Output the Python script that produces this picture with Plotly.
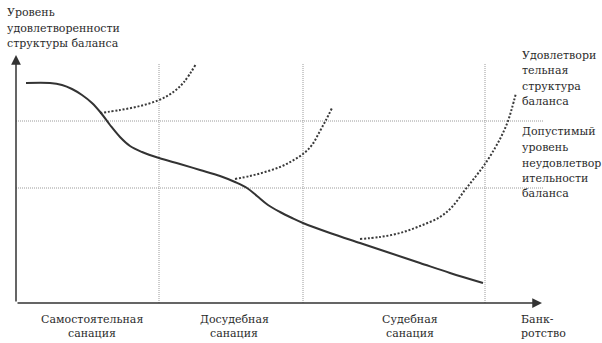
import plotly.graph_objects as go

# Main solid curve: level of balance-structure satisfaction over stages
main_x = [10, 34, 46, 56, 66, 76, 85, 94, 104, 114, 126, 143, 164, 184, 204, 219, 231, 241, 252, 264, 276, 287, 314, 344, 374, 404, 434, 467]
main_y = [220, 220, 218, 214, 208, 200, 190, 178, 166, 157, 151, 145, 139, 133, 127, 121, 115, 107, 98, 91, 85, 80, 70, 60, 50, 40, 30, 20]

# Dotted recovery curves
rec1_x = [84, 104, 124, 143, 156, 168, 180]
rec1_y = [190, 193, 197, 203, 210, 221, 239]
rec2_x = [219, 234, 249, 264, 276, 287, 296, 304, 310, 316]
rec2_y = [124, 127, 131, 136, 142, 149, 158, 172, 183, 195]
rec3_x = [344, 364, 384, 404, 424, 436, 449, 460, 469, 479, 486, 492, 496, 500]
rec3_y = [64, 66, 70, 77, 86, 96, 113, 127, 139, 155, 168, 182, 195, 210]

# Reference levels and stage borders
levels = [182, 115]
level_x_end = 527
stage_borders = [143, 287, 469]
border_top = 240

axis_x_tip = 526
axis_y_tip = 248

title_lines = ["Уровень", "удовлетворенности", "структуры баланса"]
title_y = [291, 275, 260]
right1_lines = ["Удовлетвори", "тельная", "структура", "баланса"]
right1_y = [248, 233, 217, 202]
right2_lines = ["Допустимый", "уровень", "неудовлетвор", "ительности", "баланса"]
right2_y = [172, 156, 140, 125, 110]
stage_labels = [["Самостоятельная", "санация"], ["Досудебная", "санация"], ["Судебная", "санация"]]
stage_label_x = [76, 218, 394]
bank_lines = ["Банк-", "ротство"]
bottom_y = [-16, -30]

FONT = "DejaVu Serif"
TXT = "#2b2b2b"
LINE = "#333333"
GRID = "#9a9a9a"

fig = go.Figure()

# reference dotted grid lines
for lv in levels:
    fig.add_trace(go.Scatter(x=[0, level_x_end], y=[lv, lv], mode="lines",
                             line=dict(color=GRID, width=1, dash="1px,1px"), hoverinfo="skip"))
for sb in stage_borders:
    fig.add_trace(go.Scatter(x=[sb, sb], y=[0, border_top], mode="lines",
                             line=dict(color=GRID, width=1, dash="1px,1px"), hoverinfo="skip"))

for rx, ry in [(rec1_x, rec1_y), (rec2_x, rec2_y), (rec3_x, rec3_y)]:
    fig.add_trace(go.Scatter(x=rx, y=ry, mode="lines", line_shape="spline",
                             line=dict(color="#3a3a3a", width=2, dash="2px,1.8px"), hoverinfo="skip"))

fig.add_trace(go.Scatter(x=main_x, y=main_y, mode="lines", line_shape="spline",
                         line=dict(color=LINE, width=2), hoverinfo="skip"))

annotations = []
# axes with arrows
annotations.append(dict(x=0, y=axis_y_tip, ax=0, ay=0, xref="x", yref="y", axref="x", ayref="y",
                        showarrow=True, arrowhead=2, arrowsize=1.3, arrowwidth=1.5,
                        arrowcolor=LINE, text=""))
annotations.append(dict(x=axis_x_tip, y=0, ax=0, ay=0, xref="x", yref="y", axref="x", ayref="y",
                        showarrow=True, arrowhead=2, arrowsize=1.3, arrowwidth=1.5,
                        arrowcolor=LINE, text=""))


def txt(t, x, y, xanchor="left"):
    annotations.append(dict(x=x, y=y, xref="x", yref="y", text=t, showarrow=False,
                            xanchor=xanchor, yanchor="middle",
                            font=dict(family=FONT, size=11, color=TXT)))


for t, yy in zip(title_lines, title_y):
    txt(t, -11, yy)
for t, yy in zip(right1_lines, right1_y):
    txt(t, 504, yy)
for t, yy in zip(right2_lines, right2_y):
    txt(t, 504, yy)
for lines, xx in zip(stage_labels, stage_label_x):
    for t, yy in zip(lines, bottom_y):
        txt(t, xx, yy, "center")
for t, yy in zip(bank_lines, bottom_y):
    txt(t, 503, yy)

fig.update_layout(
    width=602, height=343,
    margin=dict(l=0, r=0, t=0, b=0),
    paper_bgcolor="white", plot_bgcolor="white",
    showlegend=False,
    xaxis=dict(range=[-16, 586], visible=False),
    yaxis=dict(range=[-40, 303], visible=False),
    annotations=annotations,
)

fig.write_html("out.html")
